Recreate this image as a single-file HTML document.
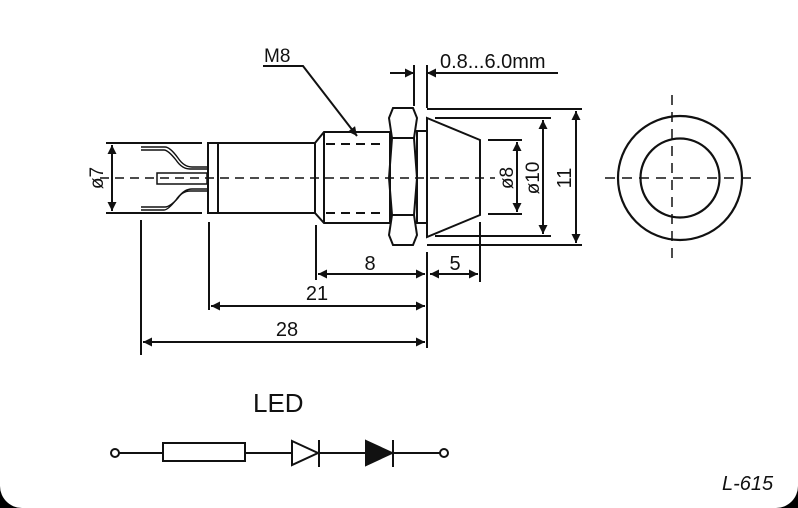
<!DOCTYPE html>
<html><head><style>
html,body{margin:0;padding:0;background:#000;}
.w{position:relative;width:798px;height:508px;background:#fff;border-radius:0 0 22px 22px;overflow:hidden;}
svg{position:absolute;left:0;top:0}
text{font-family:"Liberation Sans",sans-serif;fill:#111}
</style></head><body><div class="w">
<svg width="798" height="508" viewBox="0 0 798 508">
<defs>
<marker id="a" viewBox="0 0 10 10" refX="10" refY="5" markerWidth="16" markerHeight="9" markerUnits="userSpaceOnUse" orient="auto-start-reverse"><path d="M0,0L10,5L0,10z" fill="#111"/></marker>
</defs>
<g stroke="#111" stroke-width="2" fill="none">
<line x1="100" y1="178" x2="495" y2="178" stroke-dasharray="9,6" stroke-width="1.5"/>
<line x1="106" y1="143" x2="202" y2="143"/><line x1="106" y1="213" x2="202" y2="213"/>
<line x1="112" y1="145" x2="112" y2="211" marker-start="url(#a)" marker-end="url(#a)"/>
<path d="M141,147 H165 Q170,147 178,158 Q184,167 192,167 H208" stroke-width="1.4"/>
<path d="M141,150 H164 Q168,150 176,160 Q182,169 190,169 H208" stroke-width="1.4"/>
<path d="M141,207 H165 Q170,207 178,198 Q184,189 192,189 H208" stroke-width="1.4"/>
<path d="M141,210 H164 Q168,210 176,200 Q182,191 190,191 H208" stroke-width="1.4"/>
<rect x="157" y="173" width="50" height="11" stroke-width="1.5"/>
<rect x="208" y="143" width="10" height="70"/>
<rect x="218" y="143" width="97" height="70"/>
<path d="M315,143 L324,132 H390 V223 H324 L315,213 Z"/>
<line x1="324" y1="132" x2="324" y2="223"/>
<line x1="326" y1="144" x2="385" y2="144" stroke-dasharray="9,6"/>
<line x1="326" y1="213" x2="385" y2="213" stroke-dasharray="9,6"/>
<path d="M393,108 H413 L417,118 L414,138 L417,178 L414,215 L417,235 L413,245 H393 L389,235 L392,215 L389,178 L392,138 L389,118 Z"/>
<line x1="392" y1="138" x2="414" y2="138"/><line x1="392" y1="215" x2="414" y2="215"/>
<rect x="417" y="131" width="10" height="92"/>
<path d="M427,118 L480,140 V215 L427,237 Z"/>
<line x1="427" y1="109" x2="582" y2="109"/><line x1="435" y1="118" x2="551" y2="118"/>
<line x1="488" y1="140" x2="522" y2="140"/><line x1="488" y1="214" x2="522" y2="214"/>
<line x1="435" y1="236" x2="551" y2="236"/><line x1="427" y1="245" x2="582" y2="245"/>
<line x1="517" y1="142" x2="517" y2="212" marker-start="url(#a)" marker-end="url(#a)"/>
<line x1="543" y1="120" x2="543" y2="234" marker-start="url(#a)" marker-end="url(#a)"/>
<line x1="576" y1="111" x2="576" y2="243" marker-start="url(#a)" marker-end="url(#a)"/>
<line x1="414" y1="65" x2="414" y2="106"/><line x1="427" y1="65" x2="427" y2="108"/>
<line x1="390" y1="73" x2="414" y2="73" marker-end="url(#a)"/>
<line x1="558" y1="73" x2="427" y2="73" marker-end="url(#a)"/>
<path d="M263,66 H303 L357,136" marker-end="url(#a)"/>
<line x1="141" y1="220" x2="141" y2="355"/><line x1="209" y1="222" x2="209" y2="310"/>
<line x1="316" y1="225" x2="316" y2="280"/><line x1="427" y1="252" x2="427" y2="348"/>
<line x1="480" y1="222" x2="480" y2="282"/>
<line x1="318" y1="274" x2="425" y2="274" marker-start="url(#a)" marker-end="url(#a)"/>
<line x1="430" y1="274" x2="478" y2="274" marker-start="url(#a)" marker-end="url(#a)"/>
<line x1="211" y1="306" x2="425" y2="306" marker-start="url(#a)" marker-end="url(#a)"/>
<line x1="143" y1="342" x2="425" y2="342" marker-start="url(#a)" marker-end="url(#a)"/>
<circle cx="680" cy="178" r="62" stroke-width="2.2"/>
<circle cx="680" cy="178" r="39.5" stroke-width="2.2"/>
<line x1="605" y1="178" x2="757" y2="178" stroke-dasharray="10,7" stroke-width="1.5"/>
<line x1="672" y1="95" x2="672" y2="262" stroke-dasharray="10,7" stroke-width="1.5"/>
<circle cx="115" cy="453" r="4"/>
<line x1="119" y1="453" x2="163" y2="453"/>
<rect x="163" y="443" width="82" height="18"/>
<line x1="245" y1="453" x2="292" y2="453"/>
<path d="M292,441 L318,453 L292,465 Z"/>
<line x1="319" y1="440" x2="319" y2="467"/>
<line x1="319" y1="453" x2="366" y2="453"/>
<path d="M366,441 L392,453 L366,465 Z" fill="#111"/>
<line x1="393" y1="440" x2="393" y2="467"/>
<line x1="393" y1="453" x2="440" y2="453"/>
<circle cx="444" cy="453" r="4"/>
</g>
<text x="264" y="62" font-size="19">M8</text>
<text x="440" y="68" font-size="20">0.8...6.0mm</text>
<text x="370" y="270" font-size="20" text-anchor="middle">8</text>
<text x="455" y="270" font-size="20" text-anchor="middle">5</text>
<text x="317" y="300" font-size="20" text-anchor="middle">21</text>
<text x="287" y="336" font-size="20" text-anchor="middle">28</text>
<text transform="translate(103,178) rotate(-90)" font-size="19" text-anchor="middle">ø7</text>
<text transform="translate(513,178) rotate(-90)" font-size="19" text-anchor="middle">ø8</text>
<text transform="translate(539,178) rotate(-90)" font-size="19" text-anchor="middle">ø10</text>
<text transform="translate(571,178) rotate(-90)" font-size="20" text-anchor="middle">11</text>
<text x="253" y="412" font-size="26">LED</text>
<text x="722" y="490" font-size="20" font-style="italic">L-615</text>
</svg></div></body></html>
